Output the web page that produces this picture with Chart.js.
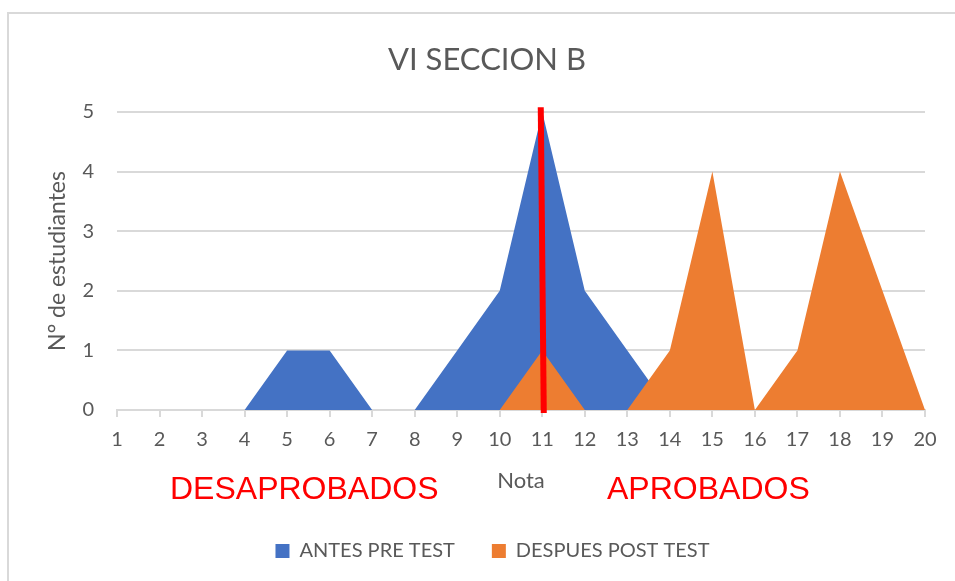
<!DOCTYPE html>
<html><head><meta charset="utf-8">
<script src="https://cdn.jsdelivr.net/npm/chart.js@4/dist/chart.umd.min.js"></script>
<style>html,body{margin:0;padding:0;background:#fff}</style>
</head><body>
<canvas id="c" width="955" height="581"></canvas>
<script>
const categories = ['1','2','3','4','5','6','7','8','9','10','11','12','13','14','15','16','17','18','19','20'];
const antesPreTest = [0,0,0,0,1,1,0,0,1,2,5,2,1,0,0,0,0,0,0,0];
const despuesPostTest = [0,0,0,0,0,0,0,0,0,0,1,0,0,1,4,0,1,4,2,0];
const yTickValues = [0,1,2,3,4,5];
const seriesNames = ['ANTES PRE TEST','DESPUES POST TEST'];
const chartTitle = 'VI SECCION B';
const xTitle = 'Nota';
const yTitle = 'N° de estudiantes';
const noteLeft = 'DESAPROBADOS';
const noteRight = 'APROBADOS';
const cutCategory = '11';

const GRAY = '#595959';
const GRID = '#d9d9d9';

const decor = {
  id: 'decor',
  beforeDraw(chart) {
    const ctx = chart.ctx;
    ctx.save();
    ctx.fillStyle = '#fff';
    ctx.fillRect(0, 0, chart.width, chart.height);
    ctx.strokeStyle = GRID;
    ctx.lineWidth = 2;
    ctx.beginPath();
    ctx.moveTo(8, chart.height);
    ctx.lineTo(8, 13);
    ctx.lineTo(chart.width, 13);
    ctx.stroke();
    ctx.fillStyle = GRAY;
    ctx.font = '31px Lato';
    ctx.textAlign = 'center';
    ctx.textBaseline = 'middle';
    ctx.fillText(chartTitle, 487, 60);
    ctx.restore();
  },
  afterDatasetsDraw(chart) {
    const ctx = chart.ctx;
    const xs = chart.scales.x, ys = chart.scales.y;
    const xc = xs.getPixelForValue(categories.indexOf(cutCategory));
    ctx.save();
    ctx.strokeStyle = '#ff0000';
    ctx.lineWidth = 6;
    ctx.beginPath();
    ctx.moveTo(xc - 1.5, ys.getPixelForValue(5.08));
    ctx.lineTo(xc + 1.5, ys.getPixelForValue(-0.05));
    ctx.stroke();
    ctx.restore();
  },
  afterDraw(chart) {
    const ctx = chart.ctx;
    ctx.save();
    ctx.fillStyle = '#ff0000';
    ctx.font = '32px "Liberation Sans"';
    ctx.textAlign = 'left';
    ctx.textBaseline = 'alphabetic';
    ctx.fillText(noteLeft, 170, 499);
    ctx.fillText(noteRight, 607, 499);
    ctx.restore();
  }
};

new Chart(document.getElementById('c'), {
  type: 'line',
  data: {
    labels: categories,
    datasets: [
      { label: seriesNames[0], data: antesPreTest, fill: 'origin', backgroundColor: '#4472C4',
        borderColor: 'rgba(0,0,0,0)', borderWidth: 0, pointRadius: 0, tension: 0, order: 2 },
      { label: seriesNames[1], data: despuesPostTest, fill: 'origin', backgroundColor: '#ED7D31',
        borderColor: 'rgba(0,0,0,0)', borderWidth: 0, pointRadius: 0, tension: 0, order: 1 }
    ]
  },
  options: {
    responsive: false,
    animation: false,
    layout: { padding: { top: 112, left: 60, right: 30, bottom: 10 } },
    plugins: {
      title: { display: false },
      tooltip: { enabled: false },
      legend: {
        position: 'bottom',
        labels: {
          boxWidth: 14, boxHeight: 14, padding: 37, color: GRAY,
          font: { family: 'Lato', size: 20 },
          sort: (a, b) => a.datasetIndex - b.datasetIndex
        }
      }
    },
    scales: {
      x: {
        type: 'category',
        offset: false,
        afterFit(s) { s.height = 94; },
        border: { color: GRID, width: 2 },
        grid: { drawOnChartArea: false, drawTicks: true, tickLength: 7, color: GRID, lineWidth: 2, offset: false },
        ticks: { color: GRAY, font: { family: 'Lato', size: 20 }, padding: 11, autoSkip: false, maxRotation: 0 },
        title: { display: true, text: xTitle, color: GRAY, font: { family: 'Lato', size: 22 }, padding: { top: 0, bottom: 10 } }
      },
      y: {
        min: 0, max: 5,
        afterFit(s) { s.width = 57; },
        afterBuildTicks(s) { s.ticks = yTickValues.map(v => ({ value: v })); },
        border: { display: false },
        grid: { color: GRID, lineWidth: 2, drawTicks: false },
        ticks: { color: GRAY, font: { family: 'Lato', size: 20 }, padding: 23, stepSize: 1 },
        title: { display: true, text: yTitle, color: GRAY, font: { family: 'Lato', size: 23 }, padding: { top: -16, bottom: 0 } }
      }
    }
  },
  plugins: [decor]
});
</script>
</body></html>
